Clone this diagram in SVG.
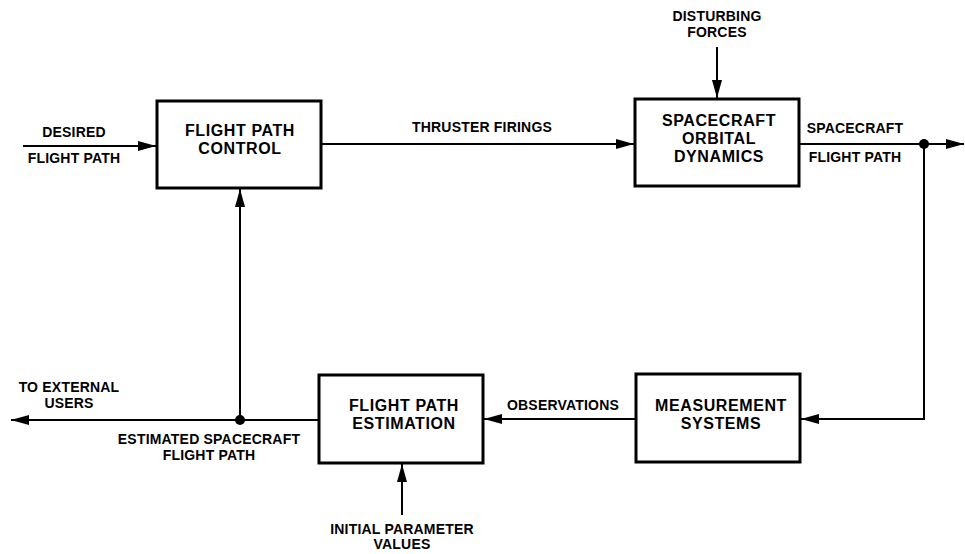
<svg xmlns="http://www.w3.org/2000/svg" width="965" height="554" viewBox="0 0 965 554">
<style>
.box{fill:#fff;stroke:#000;stroke-width:3}
.nt{font-family:"Liberation Sans",Arial,sans-serif;font-weight:bold;font-size:16px;letter-spacing:0.6px;text-anchor:middle;fill:#000}
.lb{font-family:"Liberation Sans",Arial,sans-serif;font-weight:bold;font-size:14px;letter-spacing:0.2px;text-anchor:middle;fill:#000}
.ln{fill:none;stroke:#000;stroke-width:2}
</style>
<defs>
<marker id="ah" viewBox="0 0 18 10" refX="18" refY="5" markerWidth="18" markerHeight="10" markerUnits="userSpaceOnUse" orient="auto">
<path d="M0,0 L18,5 L0,10 Z" fill="#000"/>
</marker>
</defs>
<rect width="965" height="554" fill="#fff"/>
<g id="connectors">
<line class="ln" x1="23" y1="146" x2="156" y2="146" marker-end="url(#ah)"/>
<line class="ln" x1="321" y1="144" x2="634" y2="144" marker-end="url(#ah)"/>
<line class="ln" x1="717" y1="47" x2="717" y2="98" marker-end="url(#ah)"/>
<line class="ln" x1="799" y1="144" x2="964" y2="144" marker-end="url(#ah)"/>
<polyline class="ln" points="924,144 924,419 801,419" marker-end="url(#ah)"/>
<line class="ln" x1="636" y1="419" x2="484" y2="419" marker-end="url(#ah)"/>
<line class="ln" x1="319" y1="420" x2="11" y2="420" marker-end="url(#ah)"/>
<line class="ln" x1="240" y1="420" x2="240" y2="189" marker-end="url(#ah)"/>
<line class="ln" x1="402" y1="515" x2="402" y2="464" marker-end="url(#ah)"/>
<circle cx="924" cy="144" r="5" fill="#000"/>
<circle cx="240" cy="420" r="5" fill="#000"/>
</g>
<g id="flight-path-control">
<rect class="box" x="157" y="101" width="164" height="87"/>
<text class="nt" x="240" y="136">FLIGHT PATH</text>
<text class="nt" x="240" y="154">CONTROL</text>
</g>
<g id="spacecraft-orbital-dynamics">
<rect class="box" x="635" y="99" width="164" height="87"/>
<text class="nt" x="719" y="126">SPACECRAFT</text>
<text class="nt" x="719" y="144">ORBITAL</text>
<text class="nt" x="719" y="162">DYNAMICS</text>
</g>
<g id="flight-path-estimation">
<rect class="box" x="319" y="375" width="164" height="88"/>
<text class="nt" x="404" y="411">FLIGHT PATH</text>
<text class="nt" x="404" y="429">ESTIMATION</text>
</g>
<g id="measurement-systems">
<rect class="box" x="636" y="374" width="164" height="88"/>
<text class="nt" x="721" y="411">MEASUREMENT</text>
<text class="nt" x="721" y="429">SYSTEMS</text>
</g>
<g id="labels">
<text class="lb" x="74" y="137">DESIRED</text>
<text class="lb" x="74" y="163">FLIGHT PATH</text>
<text class="lb" x="482" y="132">THRUSTER FIRINGS</text>
<text class="lb" x="717" y="21">DISTURBING</text>
<text class="lb" x="717" y="37">FORCES</text>
<text class="lb" x="855" y="133">SPACECRAFT</text>
<text class="lb" x="855" y="162">FLIGHT PATH</text>
<text class="lb" x="563" y="410">OBSERVATIONS</text>
<text class="lb" x="69" y="392">TO EXTERNAL</text>
<text class="lb" x="69" y="408">USERS</text>
<text class="lb" x="209" y="444">ESTIMATED SPACECRAFT</text>
<text class="lb" x="209" y="460">FLIGHT PATH</text>
<text class="lb" x="402" y="534">INITIAL PARAMETER</text>
<text class="lb" x="402" y="549">VALUES</text>
</g>
</svg>
